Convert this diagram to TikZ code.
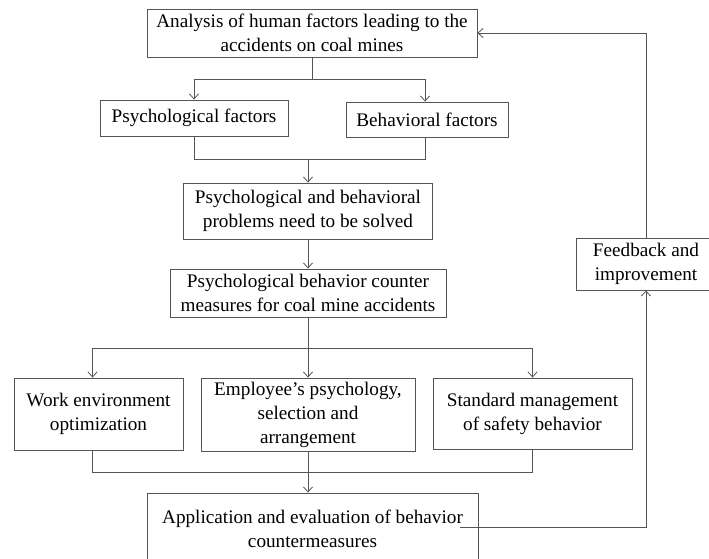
\documentclass[tikz,border=0pt]{standalone}
\usepackage{fontspec}
\setmainfont{Liberation Serif}
\usetikzlibrary{arrows.meta,calc}
\definecolor{linec}{RGB}{85,85,85}
\begin{document}
\begin{tikzpicture}[x=1pt,y=-1pt,
  box/.style={draw=linec, line width=0.9pt, inner sep=0pt, align=center,
    font=\fontsize{19.2}{24}\selectfont, text=black},
  conn/.style={draw=linec, line width=0.9pt},
  arr/.style={conn, -{Straight Barb[length=5pt,width=9pt,line width=0.8pt]}}]
\useasboundingbox (0,0) rectangle (709,558);
\clip (0,0) rectangle (709,558);
\fill[white] (0,0) rectangle (709,558);

\node[box, minimum width=330pt, minimum height=48pt] (A) at (312,33)
  {Analysis of human factors leading to the\\accidents on coal mines};
\node[box, minimum width=188pt, minimum height=36pt] (P) at (194,118)
  {Psychological factors};
\node[box, minimum width=162pt, minimum height=35pt] (B) at (427,119.5)
  {Behavioral factors};
\node[box, minimum width=249pt, minimum height=56pt] (C) at (308,211)
  {Psychological and behavioral\\problems need to be solved};
\node[box, minimum width=276pt, minimum height=48pt] (D) at (308,293)
  {Psychological behavior counter\\measures for coal mine accidents};
\node[box, minimum width=169pt, minimum height=72pt] (E1) at (98.5,414)
  {Work environment\\optimization};
\node[box, minimum width=214pt, minimum height=73pt] (E2) at (308,414.5)
  {Employee's psychology,\\selection and\\arrangement};
\node[box, minimum width=199pt, minimum height=71pt] (E3) at (532.5,413.5)
  {Standard management\\of safety behavior};
\node[box, minimum width=331pt, minimum height=72pt] (G) at (312.5,529)
  {Application and evaluation of behavior\\countermeasures};
\node[box, minimum width=140pt, minimum height=52pt] (F) at (646,264)
  {Feedback and\\improvement};

% A -> P, B
\coordinate (aj) at ($(A.south)+(0,22)$);
\draw[conn] (A.south) -- (aj);
\draw[arr] (aj) -| (P.north);
\draw[arr] (aj) -| ([xshift=-2pt]B.north);
% P, B -> C
\coordinate (bj) at ($(C.north)+(0,-23)$);
\draw[conn] (P.south) |- (bj);
\draw[conn] ([xshift=-2pt]B.south) |- (bj);
\draw[arr] (bj) -- (C.north);
% C -> D
\draw[arr] (C.south) -- (C.south |- D.north);
% D -> E1, E2, E3
\coordinate (dj) at ($(D.south)+(0,31)$);
\draw[conn] (D.south) -- (dj);
\draw[arr] (dj) -| ([xshift=-6pt]E1.north);
\draw[arr] (dj) -| (E3.north);
\draw[arr] (dj) -- (E2.north);
% E -> G
\coordinate (ej) at ($(E2.south)+(0,21)$);
\draw[conn] ([xshift=-6pt]E1.south) |- (ej);
\draw[conn] (E3.south) |- (ej);
\draw[arr] (E2.south) -- (E2.south |- G.north);
% G -> F -> A
\coordinate (fs) at (460,527);
\draw[arr] (fs) -| (F.south);
\draw[arr] (F.north) |- (A.east);
\end{tikzpicture}
\end{document}
